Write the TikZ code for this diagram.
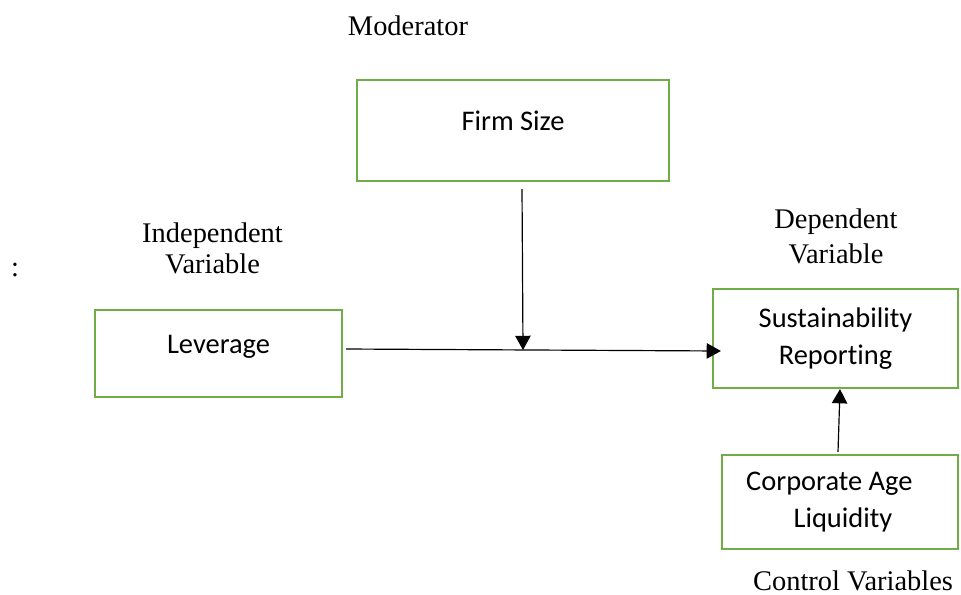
\documentclass[tikz,border=0pt]{standalone}
\usepackage{fontspec}
\setmainfont{Liberation Serif}
\newfontfamily\boxfont{Carlito}[Ligatures=NoCommon]
\usetikzlibrary{arrows.meta}
\definecolor{boxgreen}{HTML}{70AD47}
\tikzset{
  varbox/.style={draw=boxgreen, line width=0.9pt, align=center,
    font=\boxfont\fontsize{12}{15.5}\selectfont, inner sep=0pt},
  onebox/.style={varbox, text height=1.7ex, text depth=1.7ex},
  tag/.style={align=center, anchor=base, inner sep=0pt,
    font=\fontsize{12}{13}\selectfont}
}
\tikzset{arr/.style={-{Triangle[width=6.5pt,length=6pt]}, line width=0.5pt}}
\begin{document}
\begin{tikzpicture}[x=0.422pt,y=-0.422pt]
        \useasboundingbox (0,0) rectangle (961,594);
        % Boxes
        \node[onebox, minimum width=131.7pt, minimum height=42.6pt] (firm) at (513,130.5) {Firm Size};
        \node[onebox, minimum width=104.2pt, minimum height=36.7pt] (lev) at (218.5,353.5) {Leverage};
        \node[varbox, minimum width=103.4pt, minimum height=41.8pt] (sust) at (835.5,338.5) {Sustainability\\Reporting};
        \node[varbox, minimum width=99.6pt, minimum height=39.7pt] (corp) at (840,502) {Corporate Age\hspace*{9pt}\\\hspace*{2.5pt}Liquidity};
        % Labels
        \node[tag] (modlbl) at (408,35) {Moderator};
        \node[tag] (indlbl) at (212.5,273) {Independent\\Variable};
        \node[tag] (colon) at (15,276) {:};
        \node[tag, font=\fontsize{12}{14.6}\selectfont] (deplbl) at (836,263) {Dependent\\Variable};
        \node[tag] (ctrllbl) at (853,590) {Control Variables};
        % Arrows
        \coordinate (modtop) at (522,189);
        \coordinate (join) at (523,350);
        \coordinate (levout) at ([shift={(3,-4.5)}]lev.east);
        \coordinate (sustin) at ([shift={(9,12.5)}]sust.west);
        \draw[arr] (modtop) -- (join);
        \draw[arr] (levout) -- (sustin);
        \draw[arr] ([shift={(-2,-2)}]corp.north) -- ([shift={(4.5,0)}]sust.south);
    \end{tikzpicture}
\end{document}
